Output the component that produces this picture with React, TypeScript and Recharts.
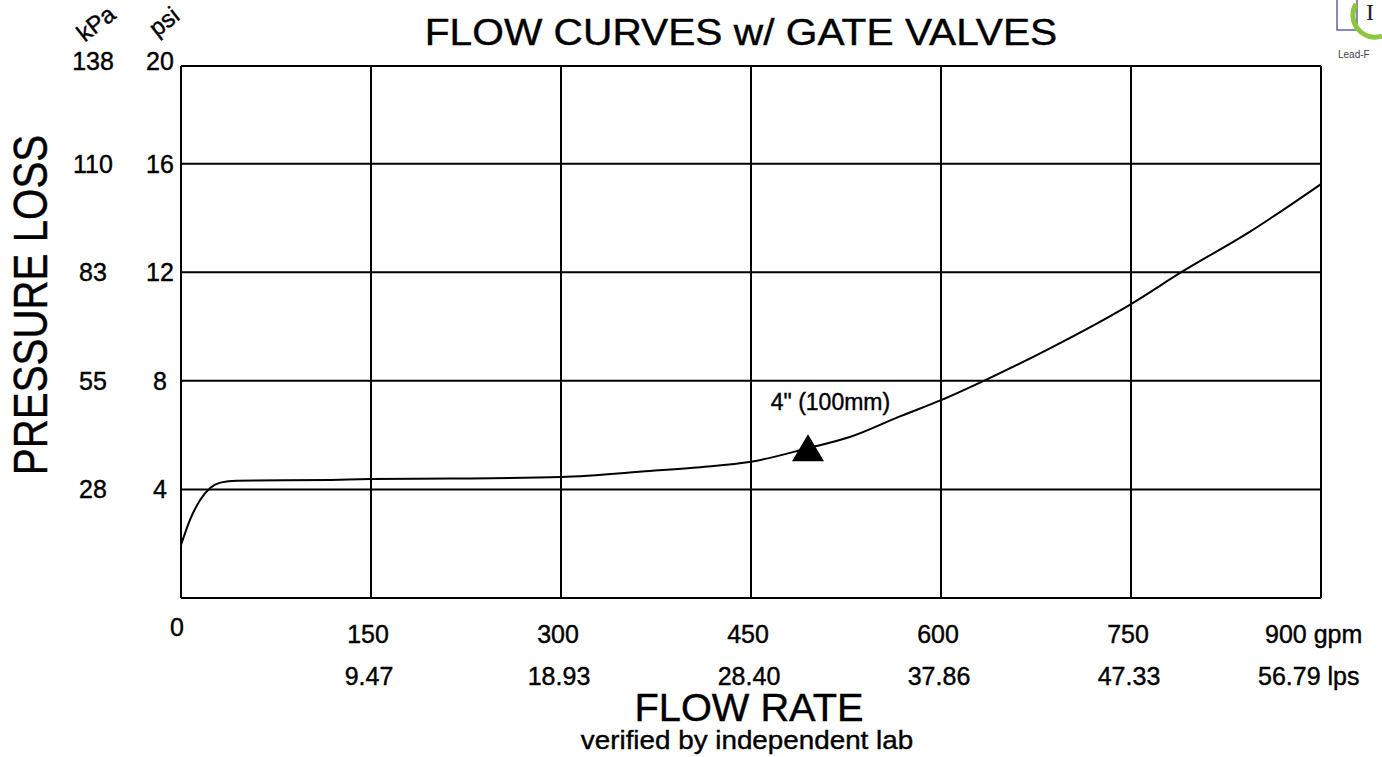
import { ComposedChart, Line, Scatter, XAxis, YAxis, CartesianGrid, LabelList } from 'recharts'

const gpm = [0, 7, 15, 23, 31, 44, 118, 150, 213, 300, 370, 410, 450, 495, 528, 568, 600, 635, 686, 750, 791, 844, 900]
const psi = [1.95, 2.87, 3.6, 4.05, 4.25, 4.32, 4.35, 4.38, 4.4, 4.46, 4.68, 4.82, 5.02, 5.52, 5.93, 6.7, 7.29, 8.03, 9.2, 10.83, 12.04, 13.5, 15.25]

const markerGpm = [495]
const markerPsi = [5.55]
const markerLabel = ['4" (100mm)']

const xTicks = [0, 150, 300, 450, 600, 750, 900]
const gpmLabels = ['0', '150', '300', '450', '600', '750', '900 gpm']
const lpsLabels = ['', '9.47', '18.93', '28.40', '37.86', '47.33', '56.79 lps']

// top of frame sits a little under 20 psi on the original sheet
const yTicks = [4, 8, 12, 16, 19.6]
const psiLabels = ['4', '8', '12', '16', '20']
const kpaLabels = ['28', '55', '83', '110', '138']

const curveData = gpm.map((g, i) => ({ gpm: g, psi: psi[i] }))
const markerData = markerGpm.map((g, i) => ({ gpm: g, psi: markerPsi[i], label: markerLabel[i] }))

const font = 'Liberation Sans, Arial, sans-serif'
const txt = { fontFamily: font, fill: '#000', stroke: '#000', strokeWidth: 0.4 }

const XTick = (props: any) => {
    const { x, y, payload } = props
    const i = xTicks.indexOf(payload.value)
    if (i === 0) {
        return <text x={x - 4} y={y + 30} textAnchor="middle" fontSize={25} {...txt}>0</text>
    }
    if (i === xTicks.length - 1) {
        return (
            <g>
                <text x={x - 56} y={y + 37} textAnchor="start" fontSize={25} {...txt}>{gpmLabels[i]}</text>
                <text x={x - 63} y={y + 79} textAnchor="start" fontSize={25} {...txt}>{lpsLabels[i]}</text>
            </g>
        )
    }
    return (
        <g>
            <text x={x - 3} y={y + 37} textAnchor="middle" fontSize={25} {...txt}>{gpmLabels[i]}</text>
            <text x={x - 2} y={y + 79} textAnchor="middle" fontSize={25} {...txt}>{lpsLabels[i]}</text>
        </g>
    )
}

const YTick = (props: any) => {
    const { y, payload } = props
    const i = yTicks.indexOf(payload.value)
    const dy = i === yTicks.length - 1 ? -5 : 0
    return (
        <g>
            <text x={93} y={y + dy + 9} textAnchor="middle" fontSize={25} {...txt}>{kpaLabels[i]}</text>
            <text x={160} y={y + dy + 9} textAnchor="middle" fontSize={25} {...txt}>{psiLabels[i]}</text>
        </g>
    )
}

const Triangle = (props: any) => {
    const { cx, cy } = props
    return <polygon points={`${cx},${cy - 13} ${cx - 16},${cy + 14} ${cx + 16},${cy + 14}`} fill="#000" />
}

export default function App() {
    return (
        <div style={{ position: 'absolute', left: 0, top: 0, width: 1382, height: 757, background: '#fff', overflow: 'hidden' }}>
            <ComposedChart width={1382} height={757} data={curveData} margin={{ top: 66, right: 61, bottom: 99, left: 101 }}>
                <text transform="translate(741,45) scale(1.086,1)" textAnchor="middle" fontSize={37.5} {...txt}>FLOW CURVES w/ GATE VALVES</text>
                <text transform="translate(749,721) scale(1.02,1)" textAnchor="middle" fontSize={39} {...txt}>FLOW RATE</text>
                <text transform="translate(747,749) scale(1.07,1)" textAnchor="middle" fontSize={26} {...txt}>verified by independent lab</text>
                <text transform="translate(47,305) rotate(-90) scale(0.84,1)" textAnchor="middle" fontSize={48} {...txt}>PRESSURE LOSS</text>
                <text transform="translate(101,30) rotate(-38)" textAnchor="middle" fontSize={24} {...txt}>kPa</text>
                <text transform="translate(169,28) rotate(-38)" textAnchor="middle" fontSize={24} {...txt}>psi</text>

                {/* partial logo cut off at the top right */}
                <rect x={1337} y={-4} width={20} height={34} fill="none" stroke="#3a3a8c" strokeWidth={1.2} />
                <path d="M 1356 4 A 22 22 0 0 0 1382 36" fill="none" stroke="#8cc63f" strokeWidth={5} />
                <text x={1366} y={20} fontSize={24} fontFamily="Liberation Serif, serif" fill="#222">I</text>
                <text x={1338} y={58} fontSize={10} fontFamily={font} fill="#444">Lead-F</text>

                <CartesianGrid stroke="#000" strokeWidth={2} />
                <XAxis
                    dataKey="gpm"
                    type="number"
                    domain={[0, 900]}
                    ticks={xTicks}
                    tick={<XTick />}
                    tickLine={false}
                    axisLine={{ stroke: '#000', strokeWidth: 2 }}
                    height={60}
                    interval={0}
                />
                <YAxis
                    type="number"
                    domain={[0, 19.6]}
                    ticks={[0, ...yTicks]}
                    tick={<YTick />}
                    tickLine={false}
                    axisLine={{ stroke: '#000', strokeWidth: 2 }}
                    width={80}
                    interval={0}
                />
                <Line type="monotone" dataKey="psi" stroke="#000" strokeWidth={2} dot={false} isAnimationActive={false} />
                <Scatter data={markerData} dataKey="psi" shape={<Triangle />} isAnimationActive={false}>
                    <LabelList dataKey="label" content={(p: any) => (
                        <text x={p.x + 27} y={p.y - 33} textAnchor="middle" fontSize={23} {...txt}>{p.value}</text>
                    )} />
                </Scatter>
            </ComposedChart>
        </div>
    )
}
